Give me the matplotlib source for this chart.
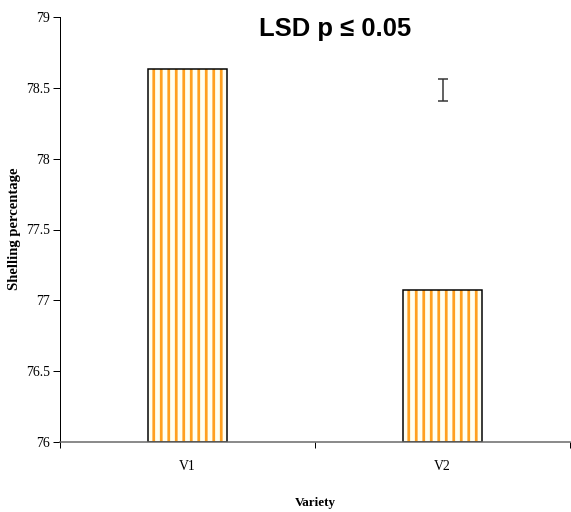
import matplotlib
matplotlib.use("Agg")
import matplotlib.pyplot as plt
import numpy as np

categories = ["V1", "V2"]
values = [78.63, 77.07]
lsd_center = 78.485
lsd_half = 0.075
yticks = [76, 76.5, 77, 77.5, 78, 78.5, 79]
ytick_labels = ["76", "76.5", "77", "77.5", "78", "78.5", "79"]

DPI = 90
plt.rcParams['hatch.linewidth'] = 2.2
fig = plt.figure(figsize=(571 / DPI, 512 / DPI), dpi=DPI)
ax = fig.add_axes([60 / 571, 1 - 442 / 512, 510 / 571, 425 / 512])

x = np.arange(len(categories))
heights = [v - 76 for v in values]
# fill + orange hatch
ax.bar(x, heights, bottom=76, width=0.313, color='#FFFFF2',
       edgecolor='#FFA020', linewidth=0, hatch='||')
# black outline
ax.bar(x, heights, bottom=76, width=0.313, fill=False,
       edgecolor='black', linewidth=1.2)

ax.errorbar([1], [lsd_center], yerr=[lsd_half], fmt='none', ecolor='#333333',
            elinewidth=1.2, capsize=4, capthick=1.2)

ax.set_xlim(-0.5, 1.5)
ax.set_ylim(76, 79)
ax.set_yticks(yticks)
ax.set_yticklabels(ytick_labels, fontfamily='Liberation Serif', fontsize=11)
ax.set_xticks([-0.5, 0.5, 1.5])
ax.set_xticklabels([])
ax.set_xticks(x, minor=True)
ax.set_xticklabels(categories, minor=True, fontfamily='Liberation Serif', fontsize=11)
ax.tick_params(axis='x', which='minor', length=0, pad=14)
ax.tick_params(axis='x', which='major', length=5, direction='out', color='black')
ax.tick_params(axis='y', length=6, direction='out', color='black', pad=2)

for s in ['top', 'right']:
    ax.spines[s].set_visible(False)
ax.spines['left'].set_color('black')
ax.spines['bottom'].set_color('#666666')
ax.spines['bottom'].set_linewidth(1.2)

fig.text(15 / 571, 1 - 229 / 512, "Shelling percentage", rotation=90,
         ha='center', va='center', fontfamily='Liberation Serif',
         fontweight='bold', fontsize=11.7)
fig.text(315 / 571, 1 - 503 / 512, "Variety", ha='center', va='center',
         fontfamily='Liberation Serif', fontweight='bold', fontsize=10.5)
fig.text(335.5 / 571, 1 - 29 / 512, "LSD p \u2264 0.05", ha='center', va='center',
         fontfamily='Liberation Sans', fontweight='bold', fontsize=20.5)

fig.savefig("out.png", dpi=DPI)
